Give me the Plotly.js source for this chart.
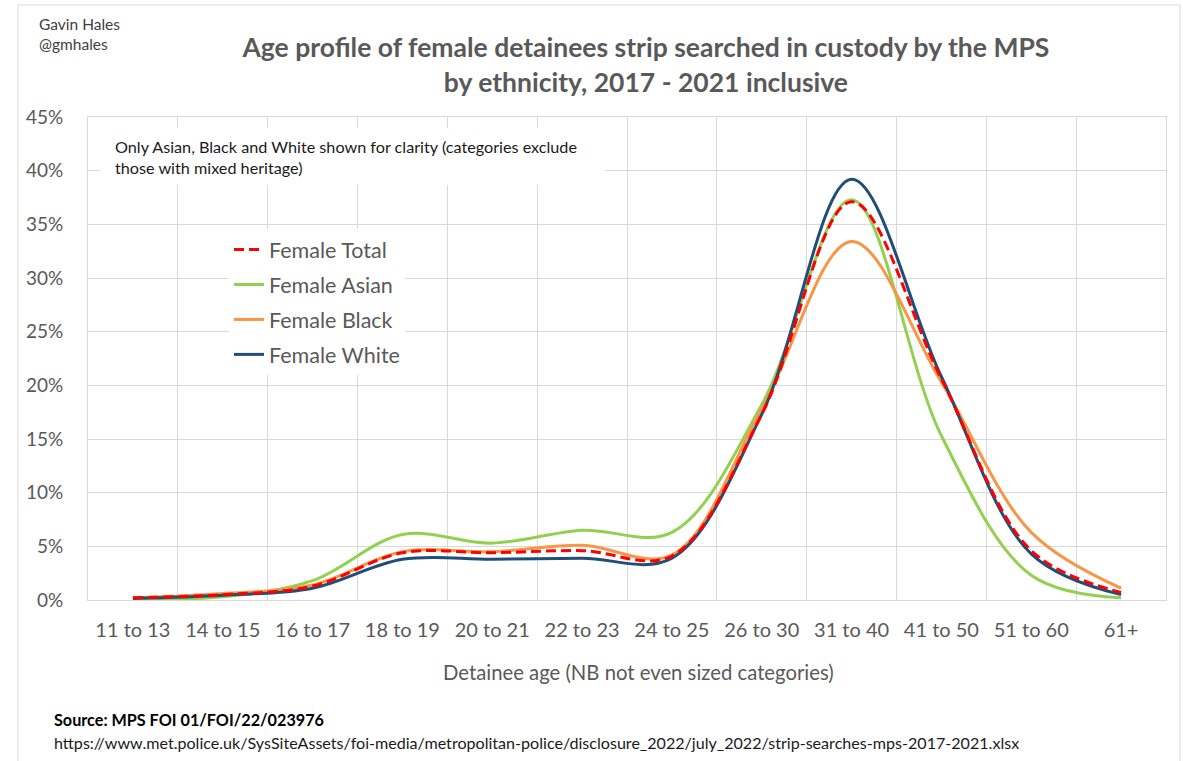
<!DOCTYPE html>
<html>
<head>
<meta charset="utf-8">
<script src="https://cdn.plot.ly/plotly-3.0.1.min.js"></script>
<style>
  html, body { margin: 0; padding: 0; background: #ffffff; }
  #chart { width: 1183px; height: 761px; }
</style>
</head>
<body>
<div id="chart"></div>
<script>
// ---- Data (percent of detainees in each age band) ----
const categories = ["11 to 13", "14 to 15", "16 to 17", "18 to 19", "20 to 21", "22 to 23",
                    "24 to 25", "26 to 30", "31 to 40", "41 to 50", "51 to 60", "61+"];
const femaleTotal = [0.2, 0.5, 1.3, 4.4, 4.4, 4.6, 4.1, 17.3, 37.1, 20.6, 4.6, 0.7];
const femaleAsian = [0.1, 0.3, 1.8, 6.1, 5.3, 6.5, 6.3, 18.2, 37.3, 15.3, 2.3, 0.2];
const femaleBlack = [0.2, 0.6, 1.4, 4.5, 4.5, 5.1, 4.2, 17.8, 33.4, 20.3, 6.3, 1.1];
const femaleWhite = [0.15, 0.45, 1.1, 3.8, 3.8, 3.9, 3.9, 17.3, 39.2, 20.8, 4.3, 0.5];
const yTicks = [0, 5, 10, 15, 20, 25, 30, 35, 40, 45];
const yTickText = yTicks.map(v => v + "%");

const FONT = "Lato, 'Open Sans', sans-serif";
const GREY = "#595959";

function series(name, y, color, dash, rank) {
  return {
    type: "scatter", mode: "lines", name: name, x: categories, y: y,
    line: { color: color, width: 3, shape: "spline", smoothing: 1, dash: dash },
    legendrank: rank, legendgroup: "g" + rank, hoverinfo: "x+y+name"
  };
}

const traces = [
  series("Female Asian", femaleAsian, "#92D050", "solid", 2),
  series("Female Black", femaleBlack, "#F79646", "solid", 3),
  series("Female White", femaleWhite, "#1F4E79", "solid", 4),
  series("Female Total", femaleTotal, "#FF0000", "10px,5px", 1)
];

const layout = {
  width: 1183, height: 761,
  margin: { l: 88, r: 17, t: 117, b: 161, pad: 0 },
  paper_bgcolor: "#ffffff", plot_bgcolor: "#ffffff",
  font: { family: FONT, color: GREY },
  title: {
    text: "<b>Age profile of female detainees strip searched in custody by the MPS<br>by ethnicity, 2017 - 2021 inclusive</b>",
    font: { family: FONT, size: 26.5, color: GREY },
    x: 0.546, xref: "container", xanchor: "center",
    y: 0.925, yref: "container", yanchor: "middle"
  },
  showlegend: true,
  legend: {
    x: 0.1308, y: 0.768, xanchor: "left", yanchor: "top",
    bgcolor: "#ffffff", borderwidth: 0,
    font: { family: FONT, size: 21.5, color: GREY },
    tracegroupgap: 4, traceorder: "grouped"
  },
  xaxis: {
    type: "category", range: [-0.5, 11.5],
    tickson: "boundaries", ticks: "",
    showgrid: true, gridcolor: "#d9d9d9", gridwidth: 1,
    showline: true, linecolor: "#d9d9d9", linewidth: 1, mirror: true,
    tickfont: { family: FONT, size: 20, color: GREY },
    ticklabelstandoff: 12,
    automargin: false, fixedrange: true
  },
  yaxis: {
    range: [0, 45], tickvals: yTicks, ticktext: yTickText, ticks: "",
    showgrid: true, gridcolor: "#d9d9d9", gridwidth: 1, zeroline: false,
    showline: true, linecolor: "#d9d9d9", linewidth: 1, mirror: true,
    tickfont: { family: FONT, size: 19, color: GREY },
    ticklabelstandoff: 20,
    automargin: false, fixedrange: true
  },
  shapes: [
    { type: "rect", xref: "paper", yref: "paper",
      x0: -0.065, x1: 1.013, y0: -0.36, y1: 1.232,
      line: { color: "#d9d9d9", width: 1 }, fillcolor: "rgba(0,0,0,0)", layer: "below" },
    { type: "rect", xref: "paper", yref: "paper",
      x0: 0.0111, x1: 0.4796, y0: 0.8592, y1: 0.9772,
      line: { width: 0 }, fillcolor: "#ffffff", layer: "above" }
  ],
  annotations: [
    { text: "Detainee age (NB not even sized categories)", xref: "paper", yref: "paper",
      x: 0.511, y: -0.1491, xanchor: "center", yanchor: "middle",
      showarrow: false, font: { family: FONT, size: 20.3, color: GREY } },
    { text: "Gavin Hales<br>@gmhales", xref: "paper", yref: "paper",
      x: -0.0473, y: 1.1718, xanchor: "left", yanchor: "middle", align: "left",
      showarrow: false, font: { family: FONT, size: 15.5, color: "#404040" } },
    { text: "Only Asian, Black and White shown for clarity (categories exclude<br>those with mixed heritage)",
      xref: "paper", yref: "paper", x: 0.0232, y: 0.918, xanchor: "left", yanchor: "middle",
      align: "left", showarrow: false, font: { family: FONT, size: 16.2, color: "#1a1a1a" } },
    { text: "<b>Source: MPS FOI 01/FOI/22/023976</b>", xref: "paper", yref: "paper",
      x: -0.0334, y: -0.2484, xanchor: "left", yanchor: "middle", align: "left",
      showarrow: false, font: { family: FONT, size: 16.2, color: "#000000" } },
    { text: "https://www.met.police.uk/SysSiteAssets/foi-media/metropolitan-police/disclosure_2022/july_2022/strip-searches-mps-2017-2021.xlsx",
      xref: "paper", yref: "paper", x: -0.0334, y: -0.296, xanchor: "left", yanchor: "middle",
      align: "left", showarrow: false, font: { family: FONT, size: 16.1, color: "#1a1a1a" } }
  ]
};

Plotly.newPlot("chart", traces, layout, { displayModeBar: false, staticPlot: true });
</script>
</body>
</html>
